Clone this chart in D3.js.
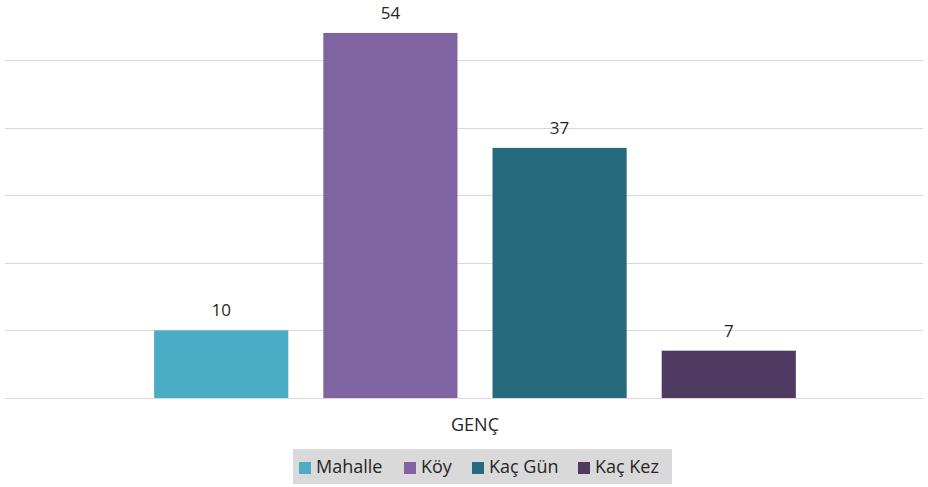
<!DOCTYPE html>
<html>
<head>
<meta charset="utf-8">
<script src="https://cdn.jsdelivr.net/npm/d3@7"></script>
<style>
  body { margin: 0; background: #fff; }
  svg { display: block; font-family: "Open Sans", "Liberation Sans", sans-serif; }
</style>
</head>
<body>
<svg id="chart" width="928" height="487"></svg>
<script>
// chart data
const categories = ['GENÇ'];
const seriesNames = ['Mahalle', 'Köy', 'Kaç Gün', 'Kaç Kez'];
const seriesValues = [[10], [54], [37], [7]];
const yTicks = [0, 10, 20, 30, 40, 50, 60];
const colors = ['#4bacc6', '#8064a2', '#276a7b', '#4f3b62'];

const svg = d3.select('#chart');

const gridLeft = 5, gridRight = 923;
const plotLeft = 27, plotRight = 923;

// 0 sits at 398, 50 at 60
const y = d3.scaleLinear().domain([0, 60]).range([398, 398 - 60 * 6.76]);

const x0 = d3.scaleBand()
	.domain(categories)
	.range([plotLeft, plotRight])
	.paddingInner(0)
	.paddingOuter(0.162);

const x1 = d3.scaleBand()
	.domain(seriesNames)
	.range([0, x0.bandwidth()])
	.paddingInner(0.207)
	.paddingOuter(0.1035);

// horizontal grid lines
svg.append('g')
	.selectAll('line')
	.data(yTicks)
	.enter()
	.append('line')
	.attr('x1', gridLeft)
	.attr('x2', gridRight)
	.attr('y1', d => Math.round(y(d)) + 0.5)
	.attr('y2', d => Math.round(y(d)) + 0.5)
	.attr('stroke', '#d9d9d9')
	.attr('stroke-width', 1);

// bars
const rows = [];
categories.forEach((c, ci) => {
	seriesNames.forEach((s, si) => {
		rows.push({ cat: c, name: s, value: seriesValues[si][ci], color: colors[si] });
	});
});

const groups = svg.append('g');

groups.selectAll('rect')
	.data(rows)
	.enter()
	.append('rect')
	.attr('x', d => x0(d.cat) + x1(d.name))
	.attr('y', d => y(d.value))
	.attr('width', x1.bandwidth())
	.attr('height', d => y(0) - y(d.value))
	.attr('fill', d => d.color);

groups.selectAll('text')
	.data(rows)
	.enter()
	.append('text')
	.attr('x', d => x0(d.cat) + x1(d.name) + x1.bandwidth() / 2)
	.attr('y', d => y(d.value) - 14)
	.attr('text-anchor', 'middle')
	.attr('font-size', 17)
	.attr('fill', '#262626')
	.text(d => d.value);

// category axis label
const xAxis = d3.axisBottom(x0).tickSize(0).tickPadding(0);
const xg = svg.append('g')
	.attr('transform', `translate(0, ${y(0)})`)
	.call(xAxis)
	.attr('font-family', null)
	.attr('font-size', 18);
xg.select('.domain').remove();
xg.selectAll('text')
	.attr('y', 33)
	.attr('dy', null)
	.attr('fill', '#262626');

// legend
const legend = svg.append('g');
legend.append('rect')
	.attr('x', 293)
	.attr('y', 449)
	.attr('width', 379)
	.attr('height', 35)
	.attr('fill', '#d9d9d9');

const legendX = [299, 404, 472, 578];
const items = legend.selectAll('g.item')
	.data(seriesNames)
	.enter()
	.append('g')
	.attr('class', 'item')
	.attr('transform', (d, i) => `translate(${legendX[i]}, 462)`);

items.append('rect')
	.attr('width', 12)
	.attr('height', 12)
	.attr('fill', (d, i) => colors[i]);

items.append('text')
	.attr('x', 17)
	.attr('y', 11)
	.attr('font-size', 18)
	.attr('fill', '#262626')
	.text(d => d);
</script>
</body>
</html>
